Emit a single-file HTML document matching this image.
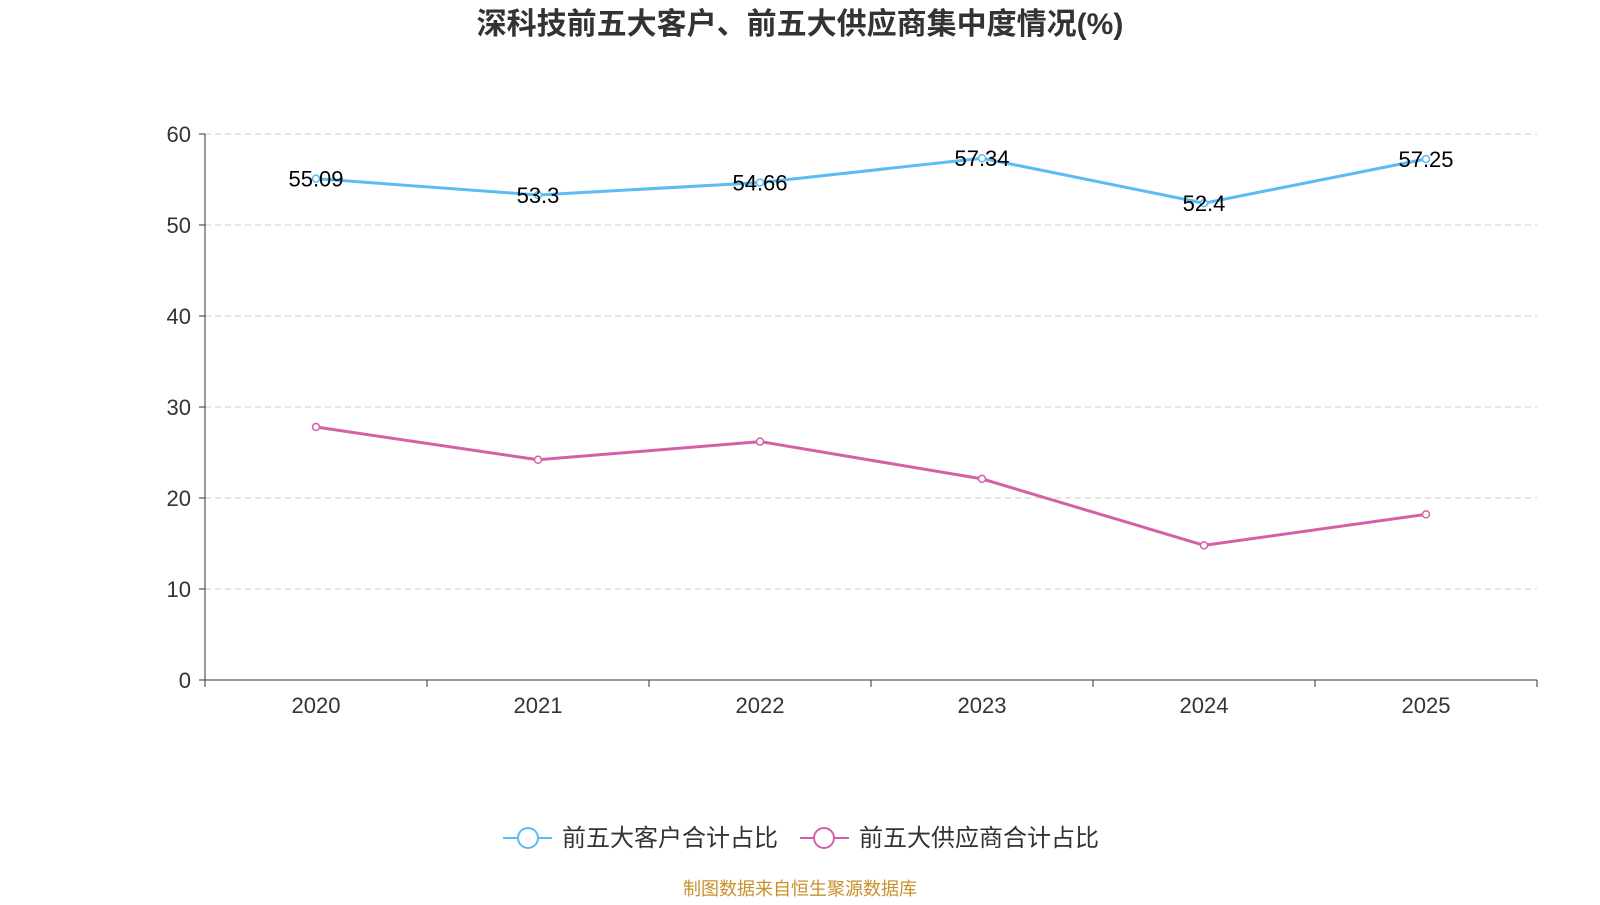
<!DOCTYPE html>
<html><head><meta charset="utf-8"><style>
body{margin:0;background:#fff;font-family:"Liberation Sans","Noto Sans CJK SC",sans-serif;}
svg text{font-family:"Liberation Sans","Noto Sans CJK SC",sans-serif;}
</style></head><body>
<svg id="c" width="1600" height="900">
<text x="800" y="34" text-anchor="middle" font-size="30" font-weight="bold" fill="#333">深科技前五大客户、前五大供应商集中度情况(%)</text>
<g id="grid"></g><g id="axes"></g><g id="series"></g>
<g>
<g>
<line x1="503" y1="838" x2="552" y2="838" stroke="#5bbcf5" stroke-width="2"/>
<circle cx="528" cy="838" r="10" fill="#fff" stroke="#5bbcf5" stroke-width="2"/>
<text x="562" y="846" font-size="24" fill="#333">前五大客户合计占比</text></g>
<g>
<line x1="800" y1="838" x2="849" y2="838" stroke="#d660a8" stroke-width="2"/>
<circle cx="824" cy="838" r="10" fill="#fff" stroke="#d660a8" stroke-width="2"/>
<text x="859" y="846" font-size="24" fill="#333">前五大供应商合计占比</text></g>
</g>
<text x="800" y="895" text-anchor="middle" font-size="18" fill="#c8902a">制图数据来自恒生聚源数据库</text>
</svg>
<script>
const categories=["2020","2021","2022","2023","2024","2025"];
const customers=[55.09,53.3,54.66,57.34,52.4,57.25];
const suppliers=[27.8,24.2,26.2,22.1,14.8,18.2];
const yTicks=[0,10,20,30,40,50,60];
const NS="http://www.w3.org/2000/svg";
const L=205,R=1537,T=134,B=680;
const y=v=>B-(v/60)*(B-T);
const step=(R-L)/categories.length;
const x=i=>L+step*(i+0.5);
function mk(t,a,p){const e=document.createElementNS(NS,t);for(const k in a)e.setAttribute(k,a[k]);p.appendChild(e);return e;}
const grid=document.getElementById('grid'),axes=document.getElementById('axes'),ser=document.getElementById('series');
yTicks.forEach(v=>{
 if(v>0){const g=mk('line',{x1:L,x2:R,y1:y(v),y2:y(v),stroke:'#ccc','stroke-dasharray':'6,4'},grid);
 
 }
 mk('line',{x1:L-6,x2:L,y1:y(v),y2:y(v),stroke:'#333'},axes);
 const t=mk('text',{x:L-14,y:y(v)+8,'text-anchor':'end','font-size':22,fill:'#333'},axes);t.textContent=v;
 
 
});
mk('line',{x1:L,x2:L,y1:T,y2:B,stroke:'#333'},axes);
mk('line',{x1:L,x2:R,y1:B,y2:B,stroke:'#333'},axes);
for(let i=0;i<=categories.length;i++)mk('line',{x1:L+step*i,x2:L+step*i,y1:B,y2:B+7,stroke:'#333'},axes);
categories.forEach((c,i)=>{const t=mk('text',{x:x(i),y:B+33,'text-anchor':'middle','font-size':22,fill:'#333'},axes);t.textContent=c;
 
 });
function draw(vals,col,name,labels){
 const p=mk('polyline',{points:vals.map((v,i)=>x(i)+','+y(v)).join(' '),fill:'none',stroke:col,'stroke-width':3},ser);
 
 
 vals.forEach((v,i)=>{const c=mk('circle',{cx:x(i),cy:y(v),r:3.5,fill:'#fff',stroke:col,'stroke-width':1.5},ser);
  
  
  if(labels){const t=mk('text',{x:x(i),y:y(v)+8,'text-anchor':'middle','font-size':22,fill:'#000'},ser);t.textContent=v;
  
  }});
}
draw(customers,'#5bbcf5','customers',true);
draw(suppliers,'#d660a8','suppliers',false);
</script>
</body></html>
